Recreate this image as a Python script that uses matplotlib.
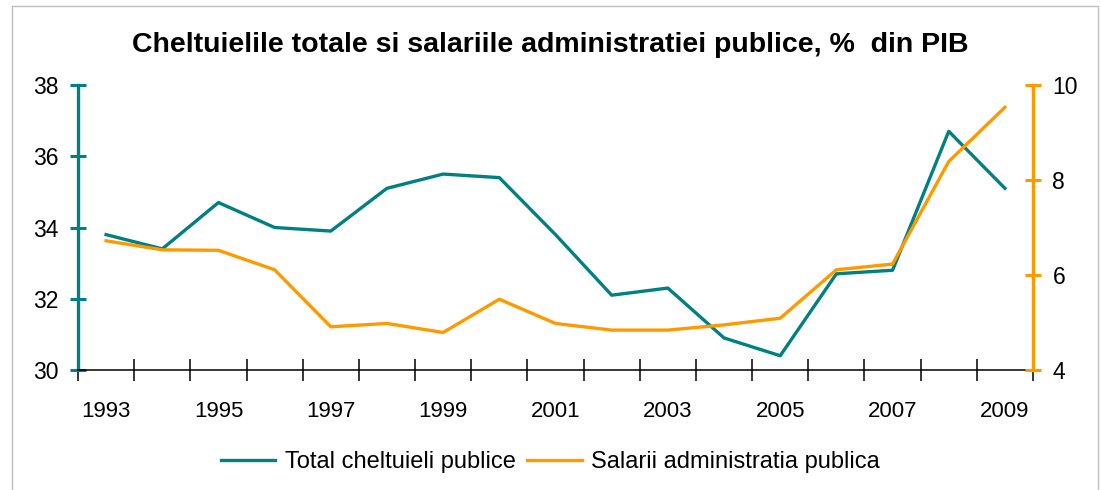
import matplotlib.pyplot as plt
from matplotlib.patches import Rectangle

plt.rcParams['font.family'] = ['Liberation Sans', 'DejaVu Sans']

# date
ani = [str(a) for a in range(1993, 2010)]
total_cheltuieli = [33.8, 33.4, 34.7, 34.0, 33.9, 35.1, 35.5, 35.4, 33.8,
                    32.1, 32.3, 30.9, 30.4, 32.7, 32.8, 36.7, 35.1]
salarii = [6.72, 6.53, 6.52, 6.11, 4.91, 4.98, 4.79, 5.49, 4.98,
           4.84, 4.84, 4.95, 5.09, 6.11, 6.23, 8.39, 9.53]

teal = '#008080'
orange = '#FF9900'

fig = plt.figure(figsize=(11.01, 4.90), dpi=100)
W, H = 1101, 490
ax = fig.add_axes([78 / W, 1 - 370 / H, (1033 - 78) / W, (370 - 85) / H])
ax2 = ax.twinx()

x = list(range(len(ani)))
l1, = ax.plot(x, total_cheltuieli, color=teal, lw=2.4, label='Total cheltuieli publice')
l2, = ax2.plot(x, salarii, color=orange, lw=2.4, label='Salarii administratia publica')

ax.set_xlim(-0.5, len(ani) - 0.5)
ax.set_ylim(30, 38)
ax.set_yticks([30, 32, 34, 36, 38])
ax2.set_ylim(4, 10)
ax2.set_yticks([4, 6, 8, 10])

# ticks intre categorii, etichete la fiecare al doilea an
ax.set_xticks([i - 0.5 for i in range(len(ani) + 1)])
ax.set_xticklabels([])
ax.set_xticks(x[::2], minor=True)
ax.set_xticklabels(ani[::2], minor=True)
ax.tick_params(axis='x', which='major', direction='inout', length=16, width=1.1, color='black')
ax.tick_params(axis='x', which='minor', length=0, pad=22, labelsize=16)

ax.tick_params(axis='y', direction='inout', length=12, width=2.2, color=teal, labelsize=16.5, pad=8)
ax2.tick_params(axis='y', direction='inout', length=12, width=2.2, color=orange, labelsize=16.5, pad=8)

for a in (ax, ax2):
    a.spines['top'].set_visible(False)
ax.spines['right'].set_visible(False)
ax2.spines['left'].set_visible(False)
ax2.spines['bottom'].set_visible(False)
ax.spines['left'].set_color(teal)
ax.spines['left'].set_linewidth(2.4)
ax2.spines['right'].set_color(orange)
ax2.spines['right'].set_linewidth(2.4)
ax.spines['bottom'].set_color('black')
ax.spines['bottom'].set_linewidth(1.1)

fig.text(0.5, 1 - 45 / H, 'Cheltuielile totale si salariile administratiei publice, %  din PIB',
         ha='center', va='center', fontsize=20.5, fontweight='bold')

fig.legend(handles=[l1, l2], loc='center', bbox_to_anchor=(0.5, 1 - 462 / H), ncol=2,
           frameon=False, fontsize=17, handlelength=2.3, handletextpad=0.4, columnspacing=0.5)

# chenar gri
fig.patches.append(Rectangle((12 / W, -0.01), (1098 - 12) / W, 1.01 - 6 / H,
                             transform=fig.transFigure, fill=False, edgecolor='#BFBFBF', lw=1))

fig.savefig('out.png', dpi=100)
